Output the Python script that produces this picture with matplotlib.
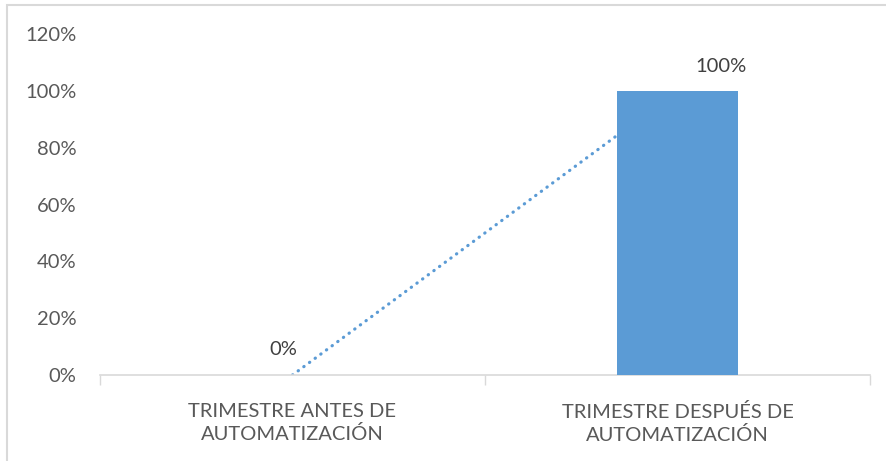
import matplotlib.pyplot as plt
from matplotlib.patches import Rectangle
from matplotlib.ticker import FixedLocator, PercentFormatter

# Chart data
categories = ['TRIMESTRE ANTES DE\nAUTOMATIZACIÓN', 'TRIMESTRE DESPUÉS DE\nAUTOMATIZACIÓN']
values = [0.0, 1.0]
y_ticks = [0.0, 0.2, 0.4, 0.6, 0.8, 1.0, 1.2]

bar_color = '#5B9BD5'
text_color = '#595959'
label_color = '#404040'
grid_color = '#D9D9D9'

plt.rcParams['font.family'] = ['Lato', 'DejaVu Sans']

W, H = 887, 461
fig = plt.figure(figsize=(W / 100, H / 100), dpi=100)
ax = fig.add_axes([100 / W, 1 - 375 / H, 770 / W, 341 / H])

xs = list(range(len(categories)))

# Bars
ax.bar(xs, values, width=0.315, color=bar_color, zorder=3)

# Linear trendline (drawn behind the bars, clipped so no dot sticks out on top)
trend, = ax.plot(xs, values, color=bar_color, linewidth=2.3,
                 linestyle=(0, (0.1, 2.1)), dash_capstyle='round', zorder=2)
clip = Rectangle((-0.5, 0), len(categories), max(values), transform=ax.transData)
trend.set_clip_path(clip)

# Data labels
offsets = [(-9, 26), (43, 24)]
for x, v, off in zip(xs, values, offsets):
    ax.annotate('{:.0%}'.format(v), (x, v), xytext=off, textcoords='offset pixels',
                ha='center', va='center', fontsize=14.5, color=label_color, zorder=4)

ax.set_xlim(-0.5, len(categories) - 0.5)
ax.set_ylim(0, 1.2)
ax.yaxis.set_major_locator(FixedLocator(y_ticks))
ax.yaxis.set_major_formatter(PercentFormatter(1.0, decimals=0))

ax.set_xticks(xs)
ax.set_xticklabels(categories, fontsize=14.5, color=text_color, linespacing=1.35)
ax.set_xticks([x - 0.5 for x in xs] + [xs[-1] + 0.5], minor=True)
ax.tick_params(axis='x', which='major', length=0, pad=20)
ax.tick_params(axis='x', which='minor', length=7, width=1, color=grid_color)
ax.tick_params(axis='y', length=0, pad=17, labelsize=14.5, labelcolor=text_color)

for side in ['top', 'right', 'left']:
    ax.spines[side].set_visible(False)
ax.spines['bottom'].set_color(grid_color)
ax.spines['bottom'].set_linewidth(1.2)

# Chart area frame (cropped on the right and bottom)
fig.patches.append(Rectangle((7 / W, -0.1), 1.1, 1 - 5 / H + 0.1, transform=fig.transFigure,
                             fill=False, edgecolor=grid_color, linewidth=1.5))

fig.savefig('out.png', dpi=100)
